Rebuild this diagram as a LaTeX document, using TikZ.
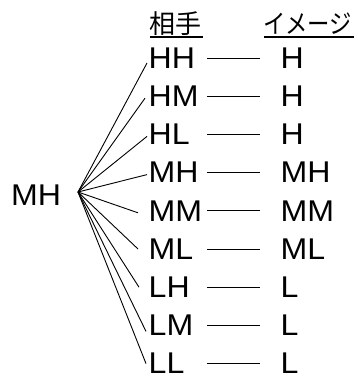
\documentclass[tikz,border=0pt]{standalone}
\usepackage{fontspec}
\setmainfont{Liberation Sans}
\newfontfamily\jpfont{Noto Sans CJK JP}
\newcommand{\wide}[1]{\scalebox{1.07}[1]{#1}}
\begin{document}
\begin{tikzpicture}[x=1pt,y=-1pt,
  lbl/.style={anchor=west,inner sep=0pt,font=\fontsize{30}{30}\selectfont},
  hdr/.style={anchor=west,inner sep=0pt,font=\jpfont\fontsize{26}{26}\selectfont},
  wire/.style={line width=0.9pt,black},
  uline/.style={line width=1.3pt,black}]
\useasboundingbox (0,0) rectangle (357,380);
% headers
\node[hdr] (h1) at (149,24) {相手};
\node[hdr] (h2) at (263,24) {\scalebox{0.86}[1]{イメージ}};
\draw[uline] (150,37) -- (203,37);
\draw[uline] (264,37) -- (354,37);
% root
\node[lbl] (root) at (11,195) {\wide{MH}};
\coordinate (o) at (78,192);
% rows: index, left, right, fan end x, fan end y-offset
\foreach \i/\a/\b/\fx/\fy in {1/HH/H/147/5,2/HM/H/145/2,3/HL/H/147/2,4/MH/MH/147/2,5/MM/MM/138/2,6/ML/ML/138/0,7/LH/L/139/0,8/LM/L/146/6,9/LL/L/146/0}{
  \pgfmathsetmacro{\yy}{58+38.2*(\i-1)}
  \node[lbl] (l\i) at (148.5,\yy) {\wide{\a}};
  \node[lbl] (r\i) at (280.5,\yy) {\wide{\b}};
  \coordinate (fa\i) at (207,\yy);
  \coordinate (fb\i) at (260,\yy);
  \coordinate (e\i) at (\fx,\yy+\fy);
  \draw[wire] (o) -- (e\i);
  \draw[wire] (fa\i) -- (fb\i);
}
\end{tikzpicture}
\end{document}
